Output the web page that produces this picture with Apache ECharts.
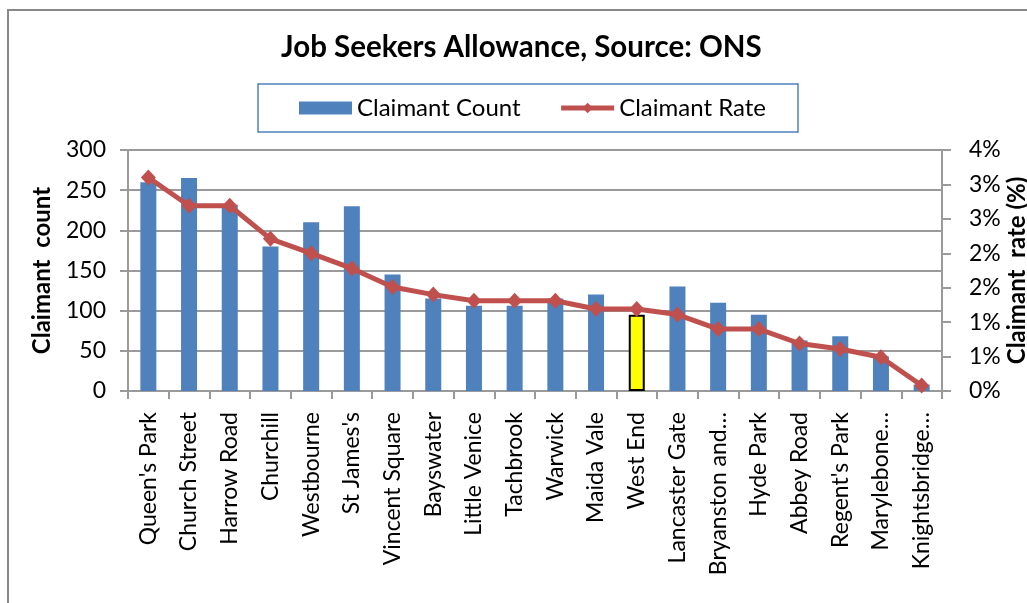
<!DOCTYPE html>
<html>
<head>
<meta charset="utf-8">
<script src="https://cdn.jsdelivr.net/npm/echarts@6/dist/echarts.min.js"></script>
<style>
  html, body { margin: 0; padding: 0; background: #fff; }
  #chart { width: 1027px; height: 603px; }
</style>
</head>
<body>
<div id="chart"></div>
<script>
// wards, as labelled on the axis
var wards = ['Queen\'s Park', 'Church Street', 'Harrow Road', 'Churchill', 'Westbourne',
  'St James\'s', 'Vincent Square', 'Bayswater', 'Little Venice', 'Tachbrook', 'Warwick',
  'Maida Vale', 'West End', 'Lancaster Gate', 'Bryanston and…', 'Hyde Park',
  'Abbey Road', 'Regent\'s Park', 'Marylebone…', 'Knightsbridge…'];
// claimant count (left axis)
var claimantCount = [260, 265, 232, 180, 210, 230, 145, 115, 106, 106, 115,
  120, 95, 130, 110, 95, 63, 68, 43, 8];
// claimant rate in % (right axis)
var claimantRate = [3.10, 2.69, 2.69, 2.21, 2.00, 1.78, 1.51, 1.40, 1.31, 1.31, 1.31,
  1.19, 1.19, 1.11, 0.90, 0.90, 0.69, 0.61, 0.49, 0.08];
var highlightWard = 'West End';

var font = 'Lato, "Liberation Sans", sans-serif';
var gridGray = '#9a9a9a';

var chart = echarts.init(document.getElementById('chart'));
chart.setOption({
  animation: false,
  textStyle: { fontFamily: font },
  graphic: [{
    type: 'rect',
    shape: { x: 8, y: 10, width: 1100, height: 700 },
    style: { fill: 'none', stroke: '#888', lineWidth: 2 }
  }],
  title: {
    text: 'Job Seekers Allowance, Source: ONS',
    left: 281,
    top: 32,
    padding: 0,
    textStyle: { fontFamily: font, fontSize: 29.5, fontWeight: 'bold', color: '#000' }
  },
  legend: {
    top: 84,
    left: 258,
    padding: [12, 32, 12, 41],
    itemGap: 38,
    itemWidth: 53,
    itemHeight: 13,
    borderColor: '#4f81bd',
    borderWidth: 1.5,
    textStyle: { fontFamily: font, fontSize: 24, color: '#000' },
    data: [
      { name: 'Claimant Count', icon: 'rect' },
      { name: 'Claimant Rate', lineStyle: { width: 5 } }
    ]
  },
  grid: { left: 128, right: 85, top: 150, bottom: 212, outerBoundsMode: 'none' },
  xAxis: {
    type: 'category',
    data: wards,
    axisLine: { lineStyle: { color: gridGray, width: 2 } },
    axisTick: { show: true, length: 8, lineStyle: { color: gridGray, width: 2 } },
    axisLabel: { rotate: 90, color: '#000', fontSize: 23, margin: 21, interval: 0 }
  },
  yAxis: [{
    type: 'value',
    min: 0,
    max: 300,
    interval: 50,
    name: 'Claimant  count',
    nameLocation: 'middle',
    nameRotate: 90,
    nameGap: 74,
    nameMoveOverlap: false,
    nameTextStyle: { fontSize: 24, fontWeight: 'bold', color: '#000' },
    axisLine: { show: true, lineStyle: { color: gridGray, width: 2 } },
    axisTick: { show: true, length: 8, lineStyle: { color: gridGray, width: 2 } },
    axisLabel: { color: '#000', fontSize: 23, margin: 22 },
    splitLine: { lineStyle: { color: gridGray, width: 2 } }
  }, {
    type: 'value',
    min: 0,
    max: 3.5,
    interval: 0.5,
    name: 'Claimant  rate (%)',
    nameLocation: 'middle',
    nameRotate: 90,
    nameGap: 63,
    nameMoveOverlap: false,
    nameTextStyle: { fontSize: 24, fontWeight: 'bold', color: '#000' },
    axisLine: { show: true, lineStyle: { color: gridGray, width: 2 } },
    axisTick: { show: true, length: 9, lineStyle: { color: gridGray, width: 2 } },
    axisLabel: {
      color: '#000', fontSize: 23, margin: 27,
      formatter: function (v) { return Math.round(v + 1e-9) + '%'; }
    },
    splitLine: { show: false }
  }],
  series: [{
    name: 'Claimant Count',
    type: 'bar',
    barWidth: 16,
    itemStyle: { color: '#4f81bd' },
    data: claimantCount.map(function (v, i) {
      if (wards[i] === highlightWard) {
        return { value: v, itemStyle: { color: '#ffff00', borderColor: '#000', borderWidth: 2 } };
      }
      return v;
    })
  }, {
    name: 'Claimant Rate',
    type: 'line',
    yAxisIndex: 1,
    symbol: 'diamond',
    symbolSize: [15, 16],
    lineStyle: { color: '#c0504d', width: 5 },
    itemStyle: { color: '#c0504d' },
    data: claimantRate
  }]
});
</script>
</body>
</html>
